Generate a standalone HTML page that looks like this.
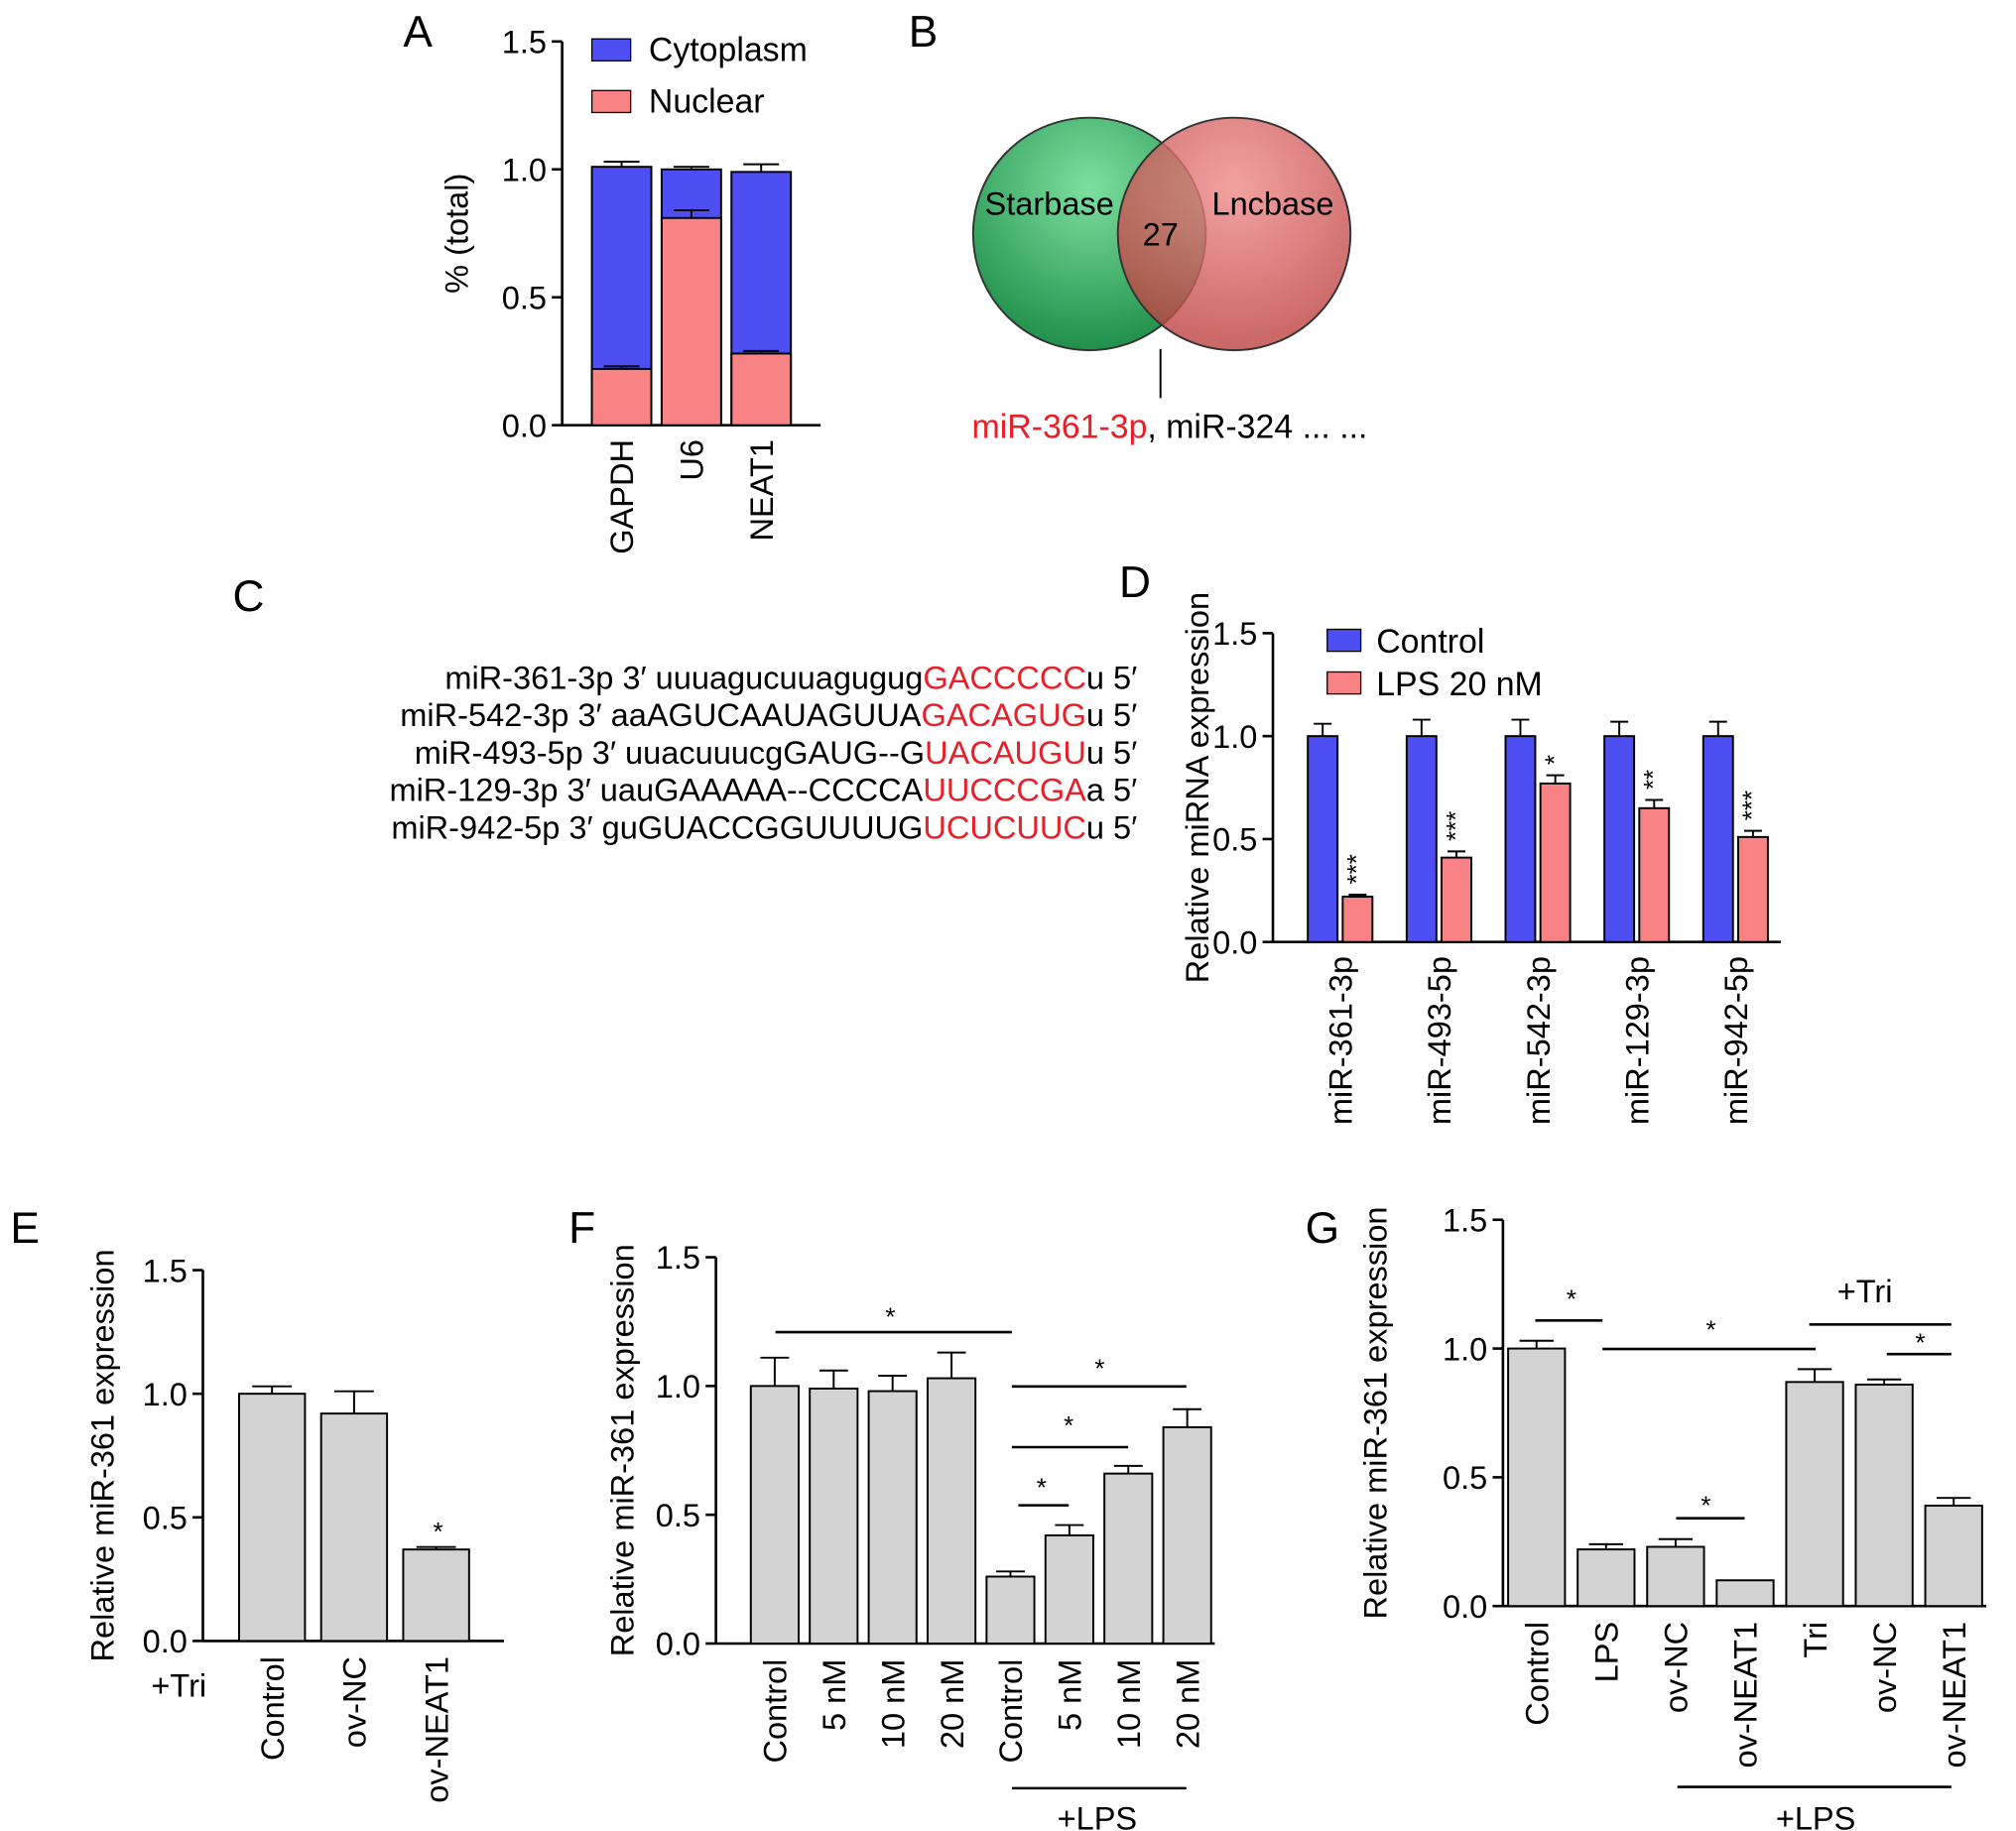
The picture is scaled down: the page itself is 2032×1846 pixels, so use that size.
<!DOCTYPE html>
<html><head><meta charset="utf-8"><style>
html,body{margin:0;padding:0;background:#fff}
svg{display:block;font-family:"Liberation Sans",Arial,sans-serif}
</style></head><body>
<svg id="fig" width="2032" height="1846" viewBox="0 0 1560 1417" xmlns="http://www.w3.org/2000/svg">
<g font-size="34" fill="#000">
<text x="312" y="36">A</text>
<text x="703" y="36">B</text>
<text x="180" y="473">C</text>
<text x="866" y="462">D</text>
<text x="8" y="962">E</text>
<text x="440" y="962">F</text>
<text x="1010" y="962">G</text>
</g>
<g>
<defs>
<radialGradient id="gg" cx="0.5" cy="0.3" r="0.75"><stop offset="0" stop-color="#7de0a0"/><stop offset="1" stop-color="#1a8a45"/></radialGradient>
<radialGradient id="rg" cx="0.5" cy="0.3" r="0.75"><stop offset="0" stop-color="#f08a8a"/><stop offset="1" stop-color="#b83a3a"/></radialGradient>
</defs>
<circle cx="843" cy="181" r="90" fill="url(#gg)" stroke="#333" stroke-width="1.5"/>
<circle cx="955" cy="181" r="90" fill="url(#rg)" fill-opacity="0.8" stroke="#333" stroke-width="1.5"/>
<text x="812" y="166" font-size="25" text-anchor="middle">Starbase</text>
<text x="985" y="166" font-size="25" text-anchor="middle">Lncbase</text>
<text x="898" y="190" font-size="25" text-anchor="middle">27</text>
<line x1="898" y1="270" x2="898" y2="308" stroke="#000" stroke-width="1.5"/>
<text x="752" y="339" font-size="26"><tspan fill="#e8202a">miR-361-3p</tspan>, miR-324 ... ...</text>
</g>
<g font-size="25" text-anchor="end">
<text x="880" y="533">miR-361-3p 3′ uuuagucuuagugug<tspan fill="#e8202a">GACCCCC</tspan>u 5′</text>
<text x="880" y="562">miR-542-3p 3′ aaAGUCAAUAGUUA<tspan fill="#e8202a">GACAGUG</tspan>u 5′</text>
<text x="880" y="591">miR-493-5p 3′ uuacuuucgGAUG--G<tspan fill="#e8202a">UACAUGU</tspan>u 5′</text>
<text x="880" y="620">miR-129-3p 3′ uauGAAAAA--CCCCA<tspan fill="#e8202a">UUCCCGA</tspan>a 5′</text>
<text x="880" y="649">miR-942-5p 3′ guGUACCGGUUUUG<tspan fill="#e8202a">UCUCUUC</tspan>u 5′</text>
</g>
</svg>
<script>
const NS="http://www.w3.org/2000/svg";
const svg=document.getElementById('fig');
const BLUE="#4d4ff2",RED="#f98384",GRAY="#d3d3d3";
const FS=25;
// Panel A data
const aCats=["GAPDH","U6","NEAT1"];
const aNuclear=[0.22,0.81,0.28];
const aNuclearErr=[0.01,0.03,0.01];
const aTotal=[1.01,1.0,0.99];
const aTotalErr=[0.02,0.01,0.03];
// Panel D data
const dCats=["miR-361-3p","miR-493-5p","miR-542-3p","miR-129-3p","miR-942-5p"];
const dControl=[1.0,1.0,1.0,1.0,1.0];
const dControlErr=[0.06,0.08,0.08,0.07,0.07];
const dLps=[0.22,0.41,0.77,0.65,0.51];
const dLpsErr=[0.01,0.03,0.04,0.04,0.03];
const dStars=["***","***","*","**","***"];
// Panel E data
const eCats=["Control","ov-NC","ov-NEAT1"];
const eVals=[1.0,0.92,0.37];
const eErr=[0.03,0.09,0.01];
// Panel F data
const fCats=["Control","5 nM","10 nM","20 nM","Control","5 nM","10 nM","20 nM"];
const fVals=[1.0,0.99,0.98,1.03,0.26,0.42,0.66,0.84];
const fErr=[0.11,0.07,0.06,0.1,0.02,0.04,0.03,0.07];
// Panel G data
const gCats=["Control","LPS","ov-NC","ov-NEAT1","Tri","ov-NC","ov-NEAT1"];
const gVals=[1.0,0.22,0.23,0.1,0.87,0.86,0.39];
const gErr=[0.03,0.02,0.03,0,0.05,0.02,0.03];
const yTicks=["0.0","0.5","1.0","1.5"];

function mk(tag,at,parent){const e=document.createElementNS(NS,tag);for(const k in at)e.setAttribute(k,at[k]);(parent||svg).appendChild(e);return e;}
function axes(g,x0,y0,ytop,xend,label,lx){
  const sc=v=>y0-(y0-ytop)*v/1.5;
  mk('line',{x1:x0,y1:y0,x2:x0,y2:ytop,stroke:'#000','stroke-width':2},g);
  mk('line',{x1:x0,y1:y0,x2:xend,y2:y0,stroke:'#000','stroke-width':2},g);
  yTicks.forEach(t=>{const v=parseFloat(t);const y=sc(v);
    mk('line',{x1:x0-8,y1:y,x2:x0,y2:y,stroke:'#000','stroke-width':2},g);
    const tx=mk('text',{x:x0-12,y:y+9,'font-size':FS,'text-anchor':'end'},g);tx.textContent=t;
    
    });
  const yl=mk('text',{x:lx,y:(y0+ytop)/2,'font-size':FS,'text-anchor':'middle',transform:`rotate(-90 ${lx} ${(y0+ytop)/2})`},g);
  yl.textContent=label;
  
  
  return sc;
}
function bar(g,x,w,y0,v,sc,fill,err){
  const r=mk('rect',{x:x,y:sc(v),width:w,height:y0-sc(v),fill:fill,stroke:'#000','stroke-width':1.5},g);
  if(err>0){const c=x+w/2,ye=sc(v+err);
    mk('line',{x1:c,y1:sc(v),x2:c,y2:ye,stroke:'#000','stroke-width':1.5},g);
    mk('line',{x1:c-w*0.3,y1:ye,x2:c+w*0.3,y2:ye,stroke:'#000','stroke-width':1.5},g);}
  return r;
}
function xlab(g,cx,y,t){const e=mk('text',{x:cx+9,y:y,'font-size':FS,'text-anchor':'end',transform:`rotate(-90 ${cx+9} ${y})`},g);e.textContent=t;
  
  return e;}
function txt(g,x,y,t,s){const e=mk('text',{x:x,y:y,'font-size':s||FS,'text-anchor':'middle'},g);e.textContent=t;return e;}
function sig(g,x1,x2,y){mk('line',{x1:x1,y1:y,x2:x2,y2:y,stroke:'#000','stroke-width':2},g);}

// Panel A
let gA=mk('g',{});
let sA=axes(gA,435,329,32,635,"% (total)",362);
aCats.forEach((c,i)=>{const x=458+i*54,w=46;
  const b1=bar(gA,x,w,329,aTotal[i],sA,BLUE,aTotalErr[i]);
  
  
  const b2=bar(gA,x,w,329,aNuclear[i],sA,RED,aNuclearErr[i]);
  
  
  xlab(gA,x+w/2,340,c);});
let lg=mk('rect',{x:458,y:30,width:30,height:17,fill:BLUE,stroke:'#000'},gA);

mk('text',{x:502,y:47,'font-size':26},gA).textContent="Cytoplasm";
lg=mk('rect',{x:458,y:70,width:30,height:17,fill:RED,stroke:'#000'},gA);

mk('text',{x:502,y:87,'font-size':26},gA).textContent="Nuclear";

// Panel D
let gD=mk('g',{});
let sD=axes(gD,985,729,490,1378,"Relative miRNA expression",935);
dCats.forEach((c,i)=>{const x=1012+i*76.5,w=23;
  const b1=bar(gD,x,w,729,dControl[i],sD,BLUE,dControlErr[i]);
  
  const b2=bar(gD,x+27,w,729,dLps[i],sD,RED,dLpsErr[i]);
  
  const sy=sD(dLps[i]+dLpsErr[i])-8;
  const st=mk('text',{x:x+27+w/2+6,y:sy,'font-size':20,'text-anchor':'start',transform:`rotate(-90 ${x+27+w/2+6} ${sy})`},gD);st.textContent=dStars[i];
  
  xlab(gD,x+25,740,c);});
lg=mk('rect',{x:1027,y:487,width:26,height:17,fill:BLUE,stroke:'#000'},gD);

mk('text',{x:1065,y:505,'font-size':26},gD).textContent="Control";
lg=mk('rect',{x:1027,y:520,width:26,height:17,fill:RED,stroke:'#000'},gD);

mk('text',{x:1065,y:538,'font-size':26},gD).textContent="LPS 20 nM";

// Panel E
let gE=mk('g',{});
let sE=axes(gE,157,1270,983,390,"Relative miR-361 expression",88);
eCats.forEach((c,i)=>{const x=185+i*63.5,w=51;
  const b=bar(gE,x,w,1270,eVals[i],sE,GRAY,eErr[i]);
  
  xlab(gE,x+w/2,1282,c);});
txt(gE,339,1192,"*",20);
mk('text',{x:117,y:1313,'font-size':FS},gE).textContent="+Tri";

// Panel F
let gF=mk('g',{});
let sF=axes(gF,554,1272,973,940,"Relative miR-361 expression",490);
fCats.forEach((c,i)=>{const x=581+i*45.6,w=37;
  const b=bar(gF,x,w,1272,fVals[i],sF,GRAY,fErr[i]);
  
  xlab(gF,x+w/2,1284,c);});
sig(gF,600,783,1031);txt(gF,689,1026,"*",20);
sig(gF,783,918,1073);txt(gF,851,1066,"*",20);
sig(gF,783,873,1120);txt(gF,827,1110,"*",20);
sig(gF,788,827,1165);txt(gF,806,1158,"*",20);
sig(gF,783,918,1384);txt(gF,849,1416,"+LPS",FS);

// Panel G
let gG=mk('g',{});
let sG=axes(gG,1163,1243,944,1537,"Relative miR-361 expression",1073);
gCats.forEach((c,i)=>{const x=1167+i*53.8,w=44;
  const b=bar(gG,x,w,1243,gVals[i],sG,GRAY,gErr[i]);
  
  xlab(gG,x+w/2,1255,c);});
sig(gG,1188,1240,1022);txt(gG,1216,1012,"*",20);
sig(gG,1240,1405,1044);txt(gG,1324,1036,"*",20);
sig(gG,1400,1510,1025);txt(gG,1443,1008,"+Tri",FS);
sig(gG,1460,1510,1048);txt(gG,1486,1046,"*",20);
sig(gG,1297,1350,1175);txt(gG,1320,1172,"*",20);
sig(gG,1298,1510,1383);txt(gG,1405,1416,"+LPS",FS);
</script>
</body></html>
